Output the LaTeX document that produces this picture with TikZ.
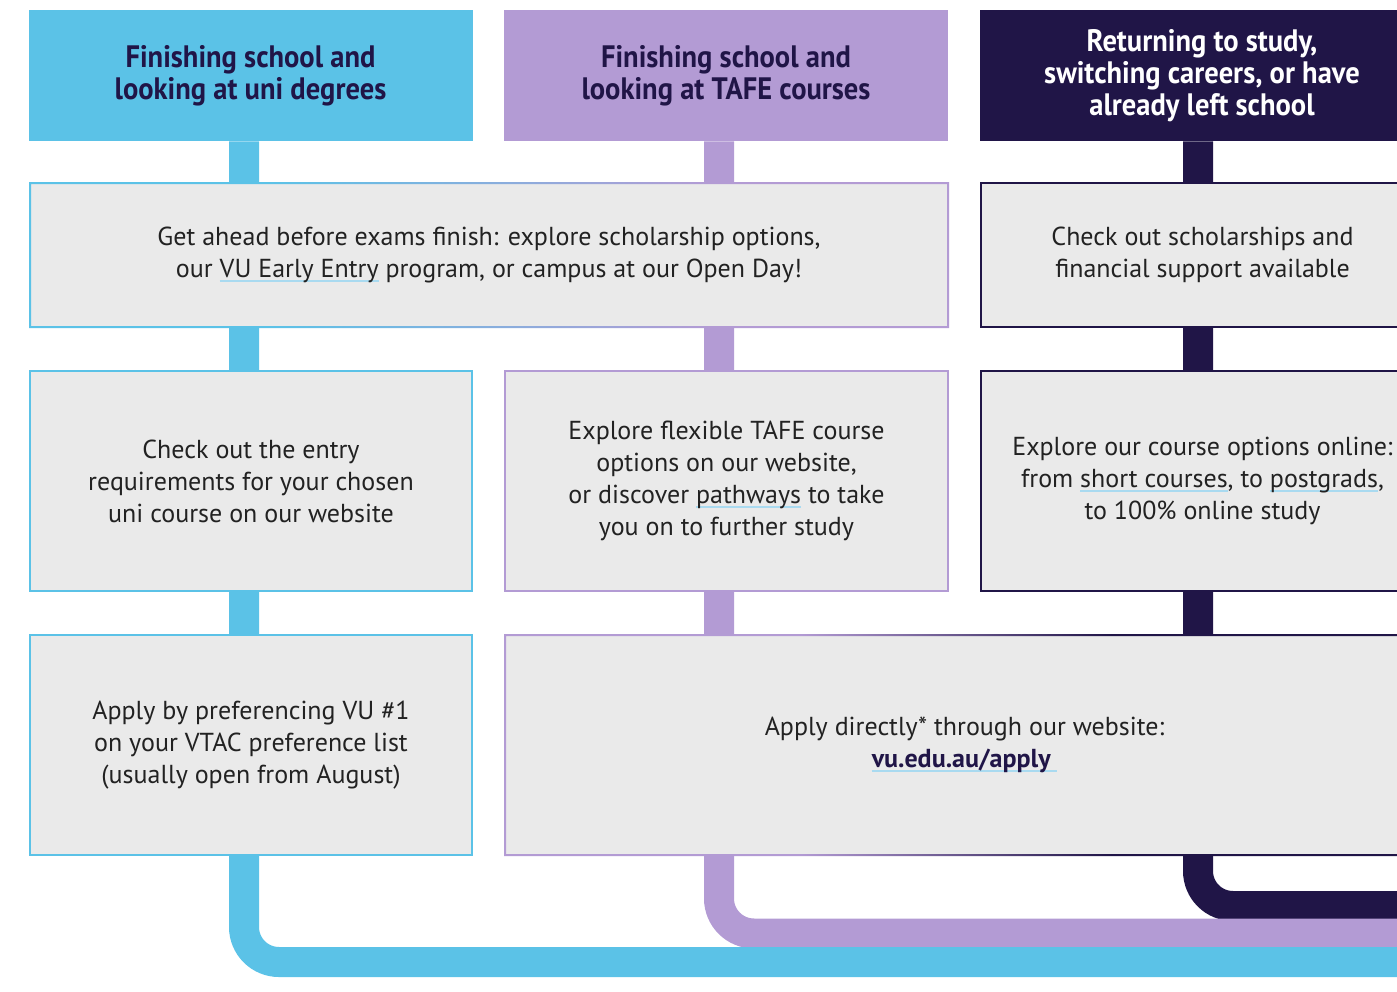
\documentclass[tikz,border=0pt]{standalone}
\usepackage{fontspec}
\setmainfont{PT Sans}
\newfontfamily\headfamily[FakeStretch=0.92]{PT Sans}
\usetikzlibrary{backgrounds}

\definecolor{vublue}{HTML}{5BC2E7}
\definecolor{vupurple}{HTML}{B39BD4}
\definecolor{vunavy}{HTML}{201547}
\definecolor{boxgray}{HTML}{EAEAEA}
\definecolor{bodytext}{HTML}{222222}
\definecolor{linkline}{HTML}{A9DAF0}

\pgfdeclarehorizontalshading{bluetopurple}{100bp}{color(0bp)=(vublue); color(38bp)=(vublue); color(62bp)=(vupurple); color(100bp)=(vupurple)}
\pgfdeclarehorizontalshading{purpletonavy}{100bp}{color(0bp)=(vupurple); color(41bp)=(vupurple); color(58bp)=(vunavy); color(100bp)=(vunavy)}

\newsavebox{\linkbox}
\newcommand{\linkword}[1]{\sbox{\linkbox}{#1}\rlap{\color{linkline}\rule[-2pt]{\wd\linkbox}{0.8pt}}\usebox{\linkbox}}
\newcommand{\headfont}{\fontsize{15.5}{16}\selectfont\headfamily\bfseries}
\newcommand{\bodyfont}{\fontsize{13}{16}\selectfont}

\tikzset{
  headbox/.style={minimum width=222pt, minimum height=65.5pt, inner sep=0pt, align=center, font=\headfont},
  stepbox/.style={fill=boxgray, minimum height=110pt, inner sep=0pt, line width=1pt, align=center, font=\bodyfont, text=bodytext},
  link/.style={line width=15pt, rounded corners=17.5pt},
}

\begin{document}
\begin{tikzpicture}[x=0.5pt, y=-0.5pt]
\path[use as bounding box] (0,0) rectangle (1397,991);

\node[headbox, fill=vublue, text=vunavy] (hUni) at (250.5,75.5) {Finishing school and\\looking at uni degrees};
\node[headbox, fill=vupurple, text=vunavy] (hTafe) at (726,75.5) {Finishing school and\\looking at TAFE courses};
\node[headbox, fill=vunavy, text=white] (hBack) at (1202,75.5) {Returning to study,\\switching careers, or have\\already left school};

\node[stepbox, minimum width=459pt, minimum height=72pt] (early) at (489,255) {Get ahead before exams finish: explore scholarship options,\\our \linkword{VU Early Entry} program, or campus at our Open Day!};
\node[stepbox, draw=vunavy, minimum width=221.5pt, minimum height=72pt] (money) at (1202.5,255) {Check out scholarships and\\financial support available};

\node[stepbox, draw=vublue, minimum width=221pt] (entry) at (251,481) {Check out the entry\\requirements for your chosen\\uni course on our website};
\node[stepbox, draw=vupurple, minimum width=221.5pt] (tafe) at (726.5,481) {Explore flexible TAFE course\\options on our website,\\or discover \linkword{pathways} to take\\you on to further study};
\node[stepbox, draw=vunavy, minimum width=221.5pt] (online) at (1202.5,481) {Explore our course options online:\\from \linkword{short courses}, to \linkword{postgrads},\\to 100\% online study};

\node[stepbox, draw=vublue, minimum width=221pt] (vtac) at (251,745) {Apply by preferencing VU \#1\\on your VTAC preference list\\(usually open from August)};
\node[stepbox, minimum width=459.5pt] (direct) at (964.5,745) {Apply directly* through our website:\\{\bfseries\color{vunavy}\linkword{vu.edu.au/apply\ }}};

\shade[shading=bluetopurple, even odd rule] (early.north west) rectangle (early.south east) ([xshift=1pt,yshift=-1pt]early.north west) rectangle ([xshift=-1pt,yshift=1pt]early.south east);
\shade[shading=purpletonavy, even odd rule] (direct.north west) rectangle (direct.south east) ([xshift=1pt,yshift=-1pt]direct.north west) rectangle ([xshift=-1pt,yshift=1pt]direct.south east);

\begin{scope}[on background layer]
\coordinate (navyEnd) at (1420,906);
\coordinate (purpleEnd) at (1420,933.5);
\coordinate (blueEnd) at (1420,962);
\draw[link, vunavy] ([xshift=-2pt]hBack.south) |- (navyEnd);
\draw[link, vupurple] ([xshift=-3.5pt]hTafe.south) |- (purpleEnd);
\draw[link, vublue] ([xshift=-3.25pt]hUni.south) |- (blueEnd);
\end{scope}
\end{tikzpicture}
\end{document}
